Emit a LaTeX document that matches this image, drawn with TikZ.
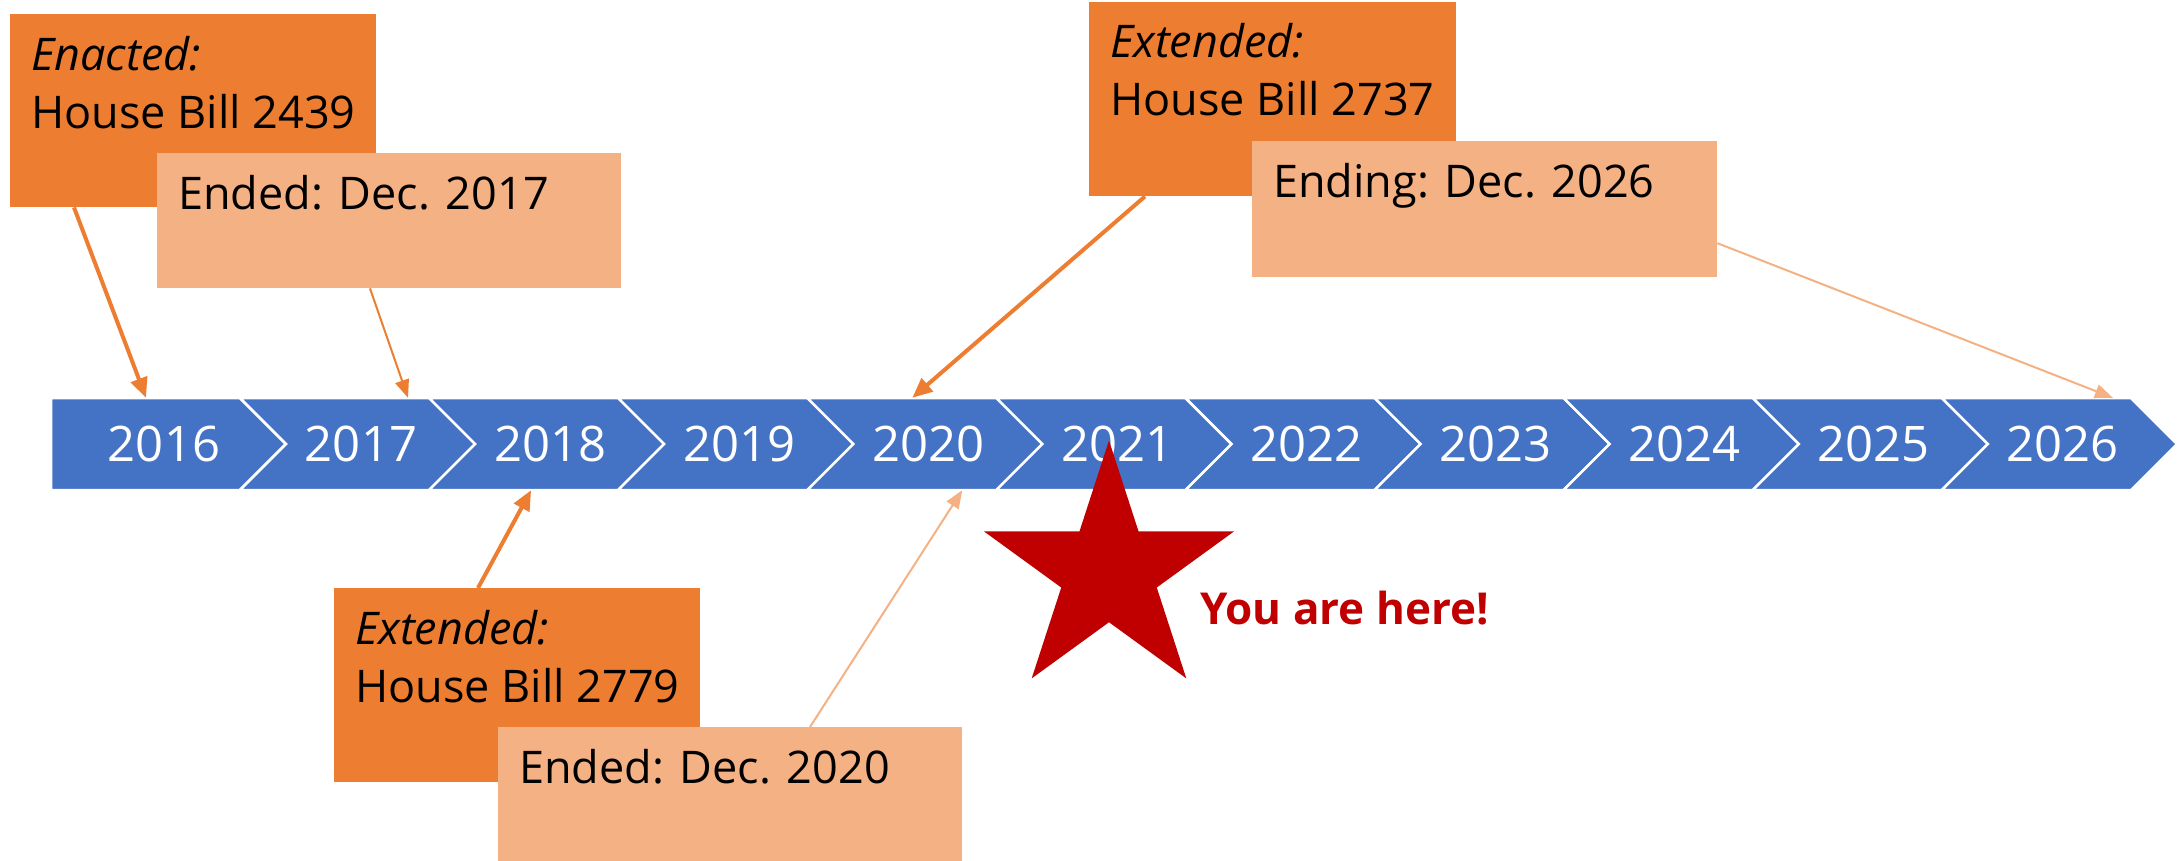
\documentclass[tikz,border=0pt]{standalone}
\usepackage{fontspec}
\setmainfont{Open Sans}
\usetikzlibrary{arrows.meta,shapes.geometric}
\definecolor{barblue}{HTML}{4472C4}
\definecolor{billorange}{HTML}{ED7D31}
\definecolor{endorange}{HTML}{F4B183}
\definecolor{herered}{HTML}{C00000}
\tikzset{
    billbox/.style={fill=billorange, inner sep=0pt, anchor=north west},
    endbox/.style={fill=endorange, inner sep=0pt, anchor=north west},
    boxlbl/.style={inner sep=0pt, anchor=base west, align=left, font=\fontsize{45}{58}\selectfont},
    yearlbl/.style={text=white, inner sep=0pt, minimum height=92pt, font=\fontsize{49}{59}\selectfont},
    chevron/.style={fill=barblue, draw=white, line width=2.5pt},
    billarrow/.style={draw=billorange, line width=4pt, -{Triangle[length=20pt,width=17pt]}},
    endarrow/.style={line width=2pt, -{Triangle[length=18pt,width=14pt]}},
}
\begin{document}
    \begin{tikzpicture}[x=1pt, y=-1pt]
        \useasboundingbox (0, 0) rectangle (2177, 860);
        \foreach \yr [count=\i from 0] in {2016,...,2026} {
            \pgfmathsetmacro{\lx}{\i==0 ? 51 : 240+189.1*(\i-1)}
            \pgfmathsetmacro{\dl}{\i==0 ? 0 : 46}
            \pgfmathsetmacro{\rx}{240+189.1*\i}
            \pgfmathsetmacro{\tx}{\i==0 ? 164 : \lx+121}
            \draw[chevron] (\lx, 398) -- (\rx, 398) -- (\rx+46, 444) -- (\rx, 490) -- (\lx, 490) -- (\lx+\dl, 444) -- cycle;
            \draw (\tx, 444) node[yearlbl](y\yr){\yr};
        }
        \draw (10, 14) node[billbox, minimum width=366pt, minimum height=193pt](enact){};
        \draw ([shift={(21pt,-114pt)}]enact.north west) node[boxlbl](enactlbl){\textit{Enacted:}\\House Bill 2439};
        \draw (157, 153) node[endbox, minimum width=464pt, minimum height=135pt](ended17){};
        \draw ([shift={(21pt,-56pt)}]ended17.north west) node[boxlbl](ended17lbl){Ended: Dec. 2017};
        \draw (1089, 2) node[billbox, minimum width=367pt, minimum height=194pt](ext37){};
        \draw ([shift={(21pt,-113pt)}]ext37.north west) node[boxlbl](ext37lbl){\textit{Extended:}\\House Bill 2737};
        \draw (1252, 141) node[endbox, minimum width=465pt, minimum height=136pt](ending26){};
        \draw ([shift={(21pt,-56pt)}]ending26.north west) node[boxlbl](ending26lbl){Ending: Dec. 2026};
        \draw (334, 588) node[billbox, minimum width=366pt, minimum height=194pt](ext79){};
        \draw ([shift={(21pt,-114pt)}]ext79.north west) node[boxlbl](ext79lbl){\textit{Extended:}\\House Bill 2779};
        \draw (498, 727) node[endbox, minimum width=464pt, minimum height=134pt](ended20){};
        \draw ([shift={(21pt,-56pt)}]ended20.north west) node[boxlbl](ended20lbl){Ended: Dec. 2020};
        \draw (1109, 572) node[star, star points=5, star point ratio=2.618, fill=herered, inner sep=0pt, minimum size=263pt](here){};
        \draw (1200, 608) node[anchor=west, inner sep=0pt, text=herered, font=\bfseries\fontsize{44}{52}\selectfont](youhere){You are here!};
        \draw[billarrow] ([xshift=64pt]enact.south west) -- ([xshift=-18pt]y2016.north);
        \draw[endarrow, billorange] ([xshift=213pt]ended17.south west) -- ([xshift=47pt]y2017.north);
        \draw[billarrow] ([xshift=56pt]ext37.south west) -- ([xshift=-16pt]y2020.north);
        \draw[endarrow, endorange] ([yshift=-34pt]ending26.east) -- ([xshift=50pt]y2026.north);
        \draw[billarrow] ([xshift=144pt]ext79.north west) -- ([xshift=-19pt]y2018.south);
        \draw[endarrow, endorange] ([xshift=312pt]ended20.north west) -- ([xshift=34pt]y2020.south);
    \end{tikzpicture}
\end{document}
